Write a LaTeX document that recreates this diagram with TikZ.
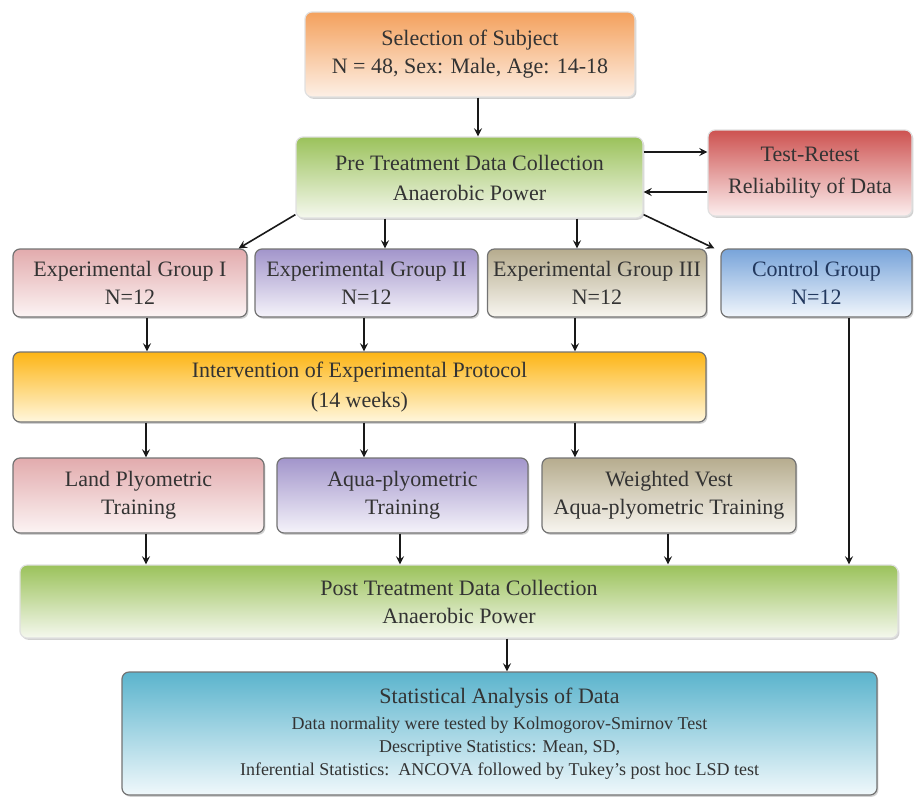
\documentclass[tikz,border=0pt]{standalone}
\usepackage{fontspec}
\setmainfont{Liberation Serif}
\usetikzlibrary{shadows}
\definecolor{orangeT}{HTML}{F4A15D}
\definecolor{orangeB}{HTML}{FDF0E6}
\definecolor{greenT}{HTML}{9BC25B}
\definecolor{greenB}{HTML}{F5F8EE}
\definecolor{redT}{HTML}{CD5250}
\definecolor{redB}{HTML}{FCEEEE}
\definecolor{pinkT}{HTML}{E2ABAD}
\definecolor{pinkB}{HTML}{FCF4F4}
\definecolor{purpT}{HTML}{A295CB}
\definecolor{purpB}{HTML}{F5F3FA}
\definecolor{khakiT}{HTML}{B6AC8E}
\definecolor{khakiB}{HTML}{F8F6F0}
\definecolor{blueT}{HTML}{78A4DA}
\definecolor{blueB}{HTML}{F1F6FC}
\definecolor{yellowT}{HTML}{FDB515}
\definecolor{yellowB}{HTML}{FFF7DD}
\definecolor{tealT}{HTML}{5BB4CD}
\definecolor{tealB}{HTML}{F0F8FB}
\definecolor{navy}{HTML}{22385E}
\def\myround{3.5pt}
\tikzset{
>=stealth, % stealth tips everywhere
my node/.style={align=center,text=black!80,inner sep=1mm,
  font=\fontsize{11}{14}\selectfont},
my box/.style={my node,rounded corners=\myround,draw=black!55,line width=.6pt,
  drop shadow={shadow xshift=.7pt,shadow yshift=-.9pt,opacity=.3,fill=black!60}},
soft box/.style={my box,draw=black!12},
grad/.style 2 args={top color=#1,bottom color=#2},
wh/.style 2 args={minimum width=#1*.5pt,minimum height=#2*.5pt},
arr/.style={->,thick,black!90},
}
\begin{document}
\begin{tikzpicture}[x=.5pt,y=-.5pt]
\useasboundingbox (0,0) rectangle (914,798);

\node[soft box,grad={orangeT}{orangeB},wh={330}{85}] (sel) at (470,54.5)
  {Selection of Subject\\N = 48, Sex: Male, Age: 14-18};
\node[soft box,grad={greenT}{greenB},wh={347}{81},
  font=\fontsize{11}{15}\selectfont] (pre) at (469.5,177.5)
  {Pre Treatment Data Collection\\Anaerobic Power};
\node[soft box,grad={redT}{redB},wh={204}{86},
  font=\fontsize{11}{16}\selectfont] (trt) at (810,173)
  {Test-Retest\\Reliability of Data};

% groups
\begin{scope}[every node/.append style={font=\fontsize{11}{13.5}\selectfont}]
\node[my box,grad={pinkT}{pinkB},wh={234}{68}] (g1) at (130,283)
  {Experimental Group I\\N=12};
\node[my box,grad={purpT}{purpB},wh={223}{68}] (g2) at (366.5,283)
  {Experimental Group II\\N=12};
\node[my box,grad={khakiT}{khakiB},wh={218}{68}] (g3) at (597,283)
  {Experimental Group III\\N=12};
\node[my box,grad={blueT}{blueB},wh={191}{68},text=navy] (ctl) at (816.5,283)
  {Control Group\\N=12};
\end{scope}

\node[my box,grad={yellowT}{yellowB},wh={693}{70},
  font=\fontsize{11}{15}\selectfont] (int) at (359.5,387)
  {Intervention of Experimental Protocol\\(14 weeks)};

% trainings
\begin{scope}[every node/.append style={font=\fontsize{11}{13}\selectfont}]
\node[my box,grad={pinkT}{pinkB},wh={251}{75}] (land) at (138.5,495.5)
  {Land Plyometric\\Training};
\node[my box,grad={purpT}{purpB},wh={251}{75}] (aqua) at (402.5,495.5)
  {Aqua-plyometric\\Training};
\node[my box,grad={khakiT}{khakiB},wh={254}{75}] (vest) at (669,495.5)
  {Weighted Vest\\Aqua-plyometric Training};
\end{scope}

\node[soft box,grad={greenT}{greenB},wh={878}{73}] (post) at (459,601.5)
  {Post Treatment Data Collection\\Anaerobic Power};
\node[my box,grad={tealT}{tealB},wh={755}{123},
  font=\fontsize{9}{11.5}\selectfont] (stat) at (499.5,733.5)
  {{\fontsize{11}{13}\selectfont Statistical Analysis of Data}\\[1.5pt]
   Data normality were tested by Kolmogorov-Smirnov Test\\
   Descriptive Statistics: Mean, SD,\\
   Inferential Statistics:\ \ ANCOVA followed by Tukey's post hoc LSD test};

% connectors
\draw[arr] ([xshift=4pt]sel.south) -- ([xshift=4pt]sel.south |- pre.north);
\draw[arr] ([yshift=12.75pt]pre.east) -- ([yshift=12.75pt]pre.east -| trt.west);
\draw[arr] ([yshift=-7.25pt]pre.east -| trt.west) -- ([yshift=-7.25pt]pre.east);
\draw[arr] ([yshift=2pt]pre.south west) -- ([xshift=-4.5pt]g1.north east);
\draw[arr] ([xshift=9.25pt]g2.north |- pre.south) -- ([xshift=9.25pt]g2.north);
\draw[arr] ([xshift=-10pt]g3.north |- pre.south) -- ([xshift=-10pt]g3.north);
\draw[arr] ([yshift=2pt]pre.south east) -- ([xshift=-3pt]ctl.north west);
\draw[arr] ([xshift=8.5pt]g1.south) -- ([xshift=8.5pt]g1.south |- int.north);
\draw[arr] ([xshift=-1.25pt]g2.south) -- ([xshift=-1.25pt]g2.south |- int.north);
\draw[arr] ([xshift=-11pt]g3.south) -- ([xshift=-11pt]g3.south |- int.north);
\draw[arr] ([xshift=3.75pt]land.north |- int.south) -- ([xshift=3.75pt]land.north);
\draw[arr] ([xshift=-19.25pt]aqua.north |- int.south) -- ([xshift=-19.25pt]aqua.north);
\draw[arr] ([xshift=-47pt]vest.north |- int.south) -- ([xshift=-47pt]vest.north);
\draw[arr] ([xshift=3.75pt]land.south) -- ([xshift=3.75pt]land.south |- post.north);
\draw[arr] ([xshift=-1.25pt]aqua.south) -- ([xshift=-1.25pt]aqua.south |- post.north);
\draw[arr] ([xshift=-.5pt]vest.south) -- ([xshift=-.5pt]vest.south |- post.north);
\draw[arr] ([xshift=16.25pt]ctl.south) -- ([xshift=16.25pt]ctl.south |- post.north);
\draw[arr] ([xshift=3.75pt]post.south -| stat.north) -- ([xshift=3.75pt]stat.north);
\end{tikzpicture}
\end{document}
